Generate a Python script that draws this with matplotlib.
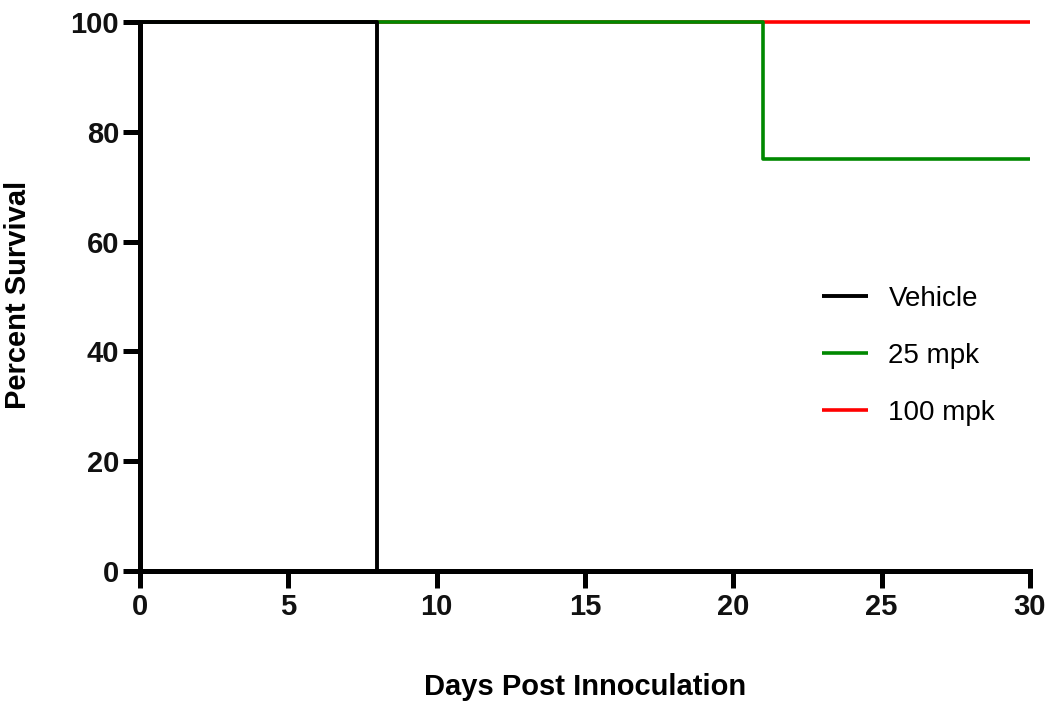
import matplotlib
matplotlib.use("Agg")
import matplotlib.pyplot as plt
from matplotlib import font_manager

# Kaplan-Meier style survival steps
vehicle_days = [0, 8]
vehicle_surv = [100, 0]
mpk25_days = [0, 21, 30]
mpk25_surv = [100, 75, 75]
mpk100_days = [0, 30]
mpk100_surv = [100, 100]

x_ticks = [0, 5, 10, 15, 20, 25, 30]
y_ticks = [0, 20, 40, 60, 80, 100]

names = {f.name for f in font_manager.fontManager.ttflist}
tick_family = "Liberation Sans Narrow" if "Liberation Sans Narrow" in names else "Liberation Sans"
plt.rcParams["font.family"] = "Liberation Sans"

fig = plt.figure(figsize=(10.5, 7.09), dpi=100)
ax = fig.add_axes([0.1333, 0.1946, 0.8476, 0.7743])

ax.plot(mpk100_days, mpk100_surv, drawstyle="steps-post", color="#ff0000",
        lw=2.6, label="100 mpk", zorder=2, clip_on=False, solid_capstyle="butt")
ax.plot(mpk25_days, mpk25_surv, drawstyle="steps-post", color="#008800",
        lw=2.6, label="25 mpk", zorder=3, clip_on=False, solid_capstyle="butt")
ax.plot(vehicle_days, vehicle_surv, drawstyle="steps-post", color="black",
        lw=2.8, label="Vehicle", zorder=4, clip_on=False, solid_capstyle="butt")

ax.set_xlim(0, 30)
ax.set_ylim(0, 100)
ax.set_xticks(x_ticks)
ax.set_yticks(y_ticks)

for s in ["top", "right"]:
    ax.spines[s].set_visible(False)
for s in ["left", "bottom"]:
    ax.spines[s].set_linewidth(3.6)
    ax.spines[s].set_capstyle("projecting")

ax.tick_params(axis="both", direction="out", length=12, width=3.6, color="black")
ax.tick_params(axis="y", pad=3)
ax.tick_params(axis="x", pad=4)
for lab in ax.get_xticklabels() + ax.get_yticklabels():
    lab.set_fontfamily(tick_family)
    lab.set_fontweight("bold")
    lab.set_fontsize(21)
    lab.set_color("#111111")

ax.set_xlabel("Days Post Innoculation", fontsize=21, fontweight="bold")
ax.set_ylabel("Percent Survival", fontsize=21, fontweight="bold")
ax.xaxis.set_label_coords(0.5, -0.185)
ax.yaxis.set_label_coords(-0.121, 0.503)

handles, labels = ax.get_legend_handles_labels()
order = [2, 1, 0]
ax.legend([handles[i] for i in order], [labels[i] for i in order],
          loc="center left", bbox_to_anchor=(0.738, 0.392), frameon=False,
          fontsize=20, handlelength=1.65, handletextpad=0.75, labelspacing=1.12)

fig.savefig("out.png", dpi=100)
